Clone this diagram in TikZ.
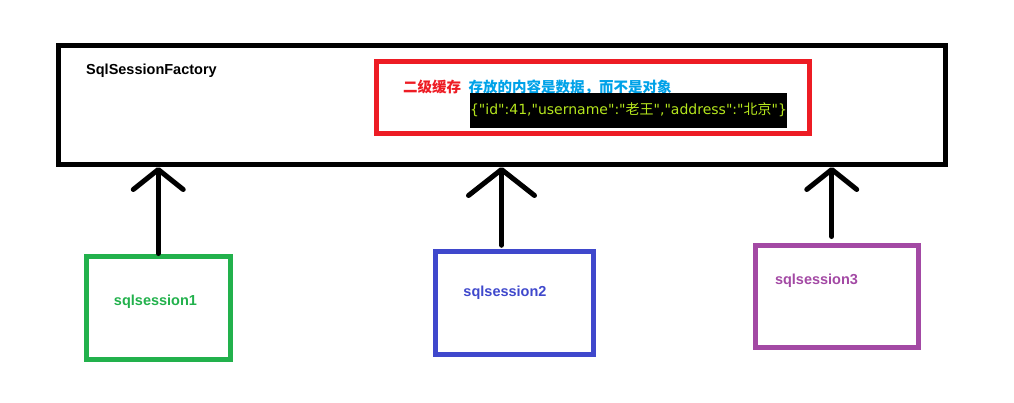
\documentclass[tikz,border=0pt]{standalone}
\usepackage{fontspec}
\setmainfont{Liberation Sans}
\newfontfamily\cjk{Noto Sans CJK SC}
\newfontfamily\jsonfont{DejaVu Sans}
\usetikzlibrary{arrows.meta,positioning}
\definecolor{cachered}{HTML}{ED1C24}
\definecolor{notecyan}{HTML}{00A2E8}
\definecolor{jsonlime}{HTML}{B5E61D}
\definecolor{sessgreen}{HTML}{22B14C}
\definecolor{sessblue}{HTML}{3F48CC}
\definecolor{sesspurple}{HTML}{A349A4}
\begin{document}
\begin{tikzpicture}[x=1pt,y=-1pt,
	frame/.style={draw, line width=5pt, inner sep=0pt},
	lbl/.style={inner sep=0pt, font=\bfseries\fontsize{14.5}{16}\selectfont},
	uparrow/.style={line width=5pt, line cap=round, -{Straight Barb[length=20pt,width=50pt,round]}}]
	\useasboundingbox (0,0) rectangle (1014,402);
	\node (factory) at (502, 105)	[frame, draw=black, minimum width=887pt, minimum height=119pt]	{};
	\node (title) at (86, 70.5)	[lbl, anchor=west]	{SqlSessionFactory};
	\node (cache) at (592.75, 97.5)	[frame, draw=cachered, minimum width=432.5pt, minimum height=72pt]	{};
	\node (level) at (403, 87)	[lbl, anchor=west, text=cachered]	{\cjk\bfseries 二级缓存};
	\node (content) [lbl, right=7pt of level, text=notecyan]	{\cjk\bfseries 存放的内容是数据，而不是对象};
	\node (json) at (628.5, 110.2)	[fill=black, text=jsonlime, inner xsep=0pt, minimum height=35pt, font=\jsonfont\fontsize{14}{16}\selectfont]	{\{"id":41,"username":"{\cjk 老王}","address":"{\cjk 北京}"\}};
	\node (s1) at (158.25, 307.5)	[frame, draw=sessgreen, minimum width=143.5pt, minimum height=103pt]	{};
	\node (s2) at (514.5, 303)	[frame, draw=sessblue, minimum width=158pt, minimum height=102.5pt]	{};
	\node (s3) at (836.75, 296.25)	[frame, draw=sesspurple, minimum width=163.5pt, minimum height=102.5pt]	{};
	\node (s1name) at (155.5, 302)	[lbl, text=sessgreen]	{sqlsession1};
	\node (s2name) at (505, 293)	[lbl, text=sessblue]	{sqlsession2};
	\node (s3name) at (816.5, 281)	[lbl, text=sesspurple]	{sqlsession3};
	\draw[uparrow] (s1.north) -- (s1.north |- factory.south);
	\draw[uparrow, -{Straight Barb[length=26pt,width=66pt,round]}] ([xshift=-13pt, yshift=4pt]s2.north) -- ([xshift=-13pt]s2.north |- factory.south);
	\draw[uparrow] ([xshift=-5pt, yshift=6pt]s3.north) -- ([xshift=-5pt]s3.north |- factory.south);
\end{tikzpicture}
\end{document}
